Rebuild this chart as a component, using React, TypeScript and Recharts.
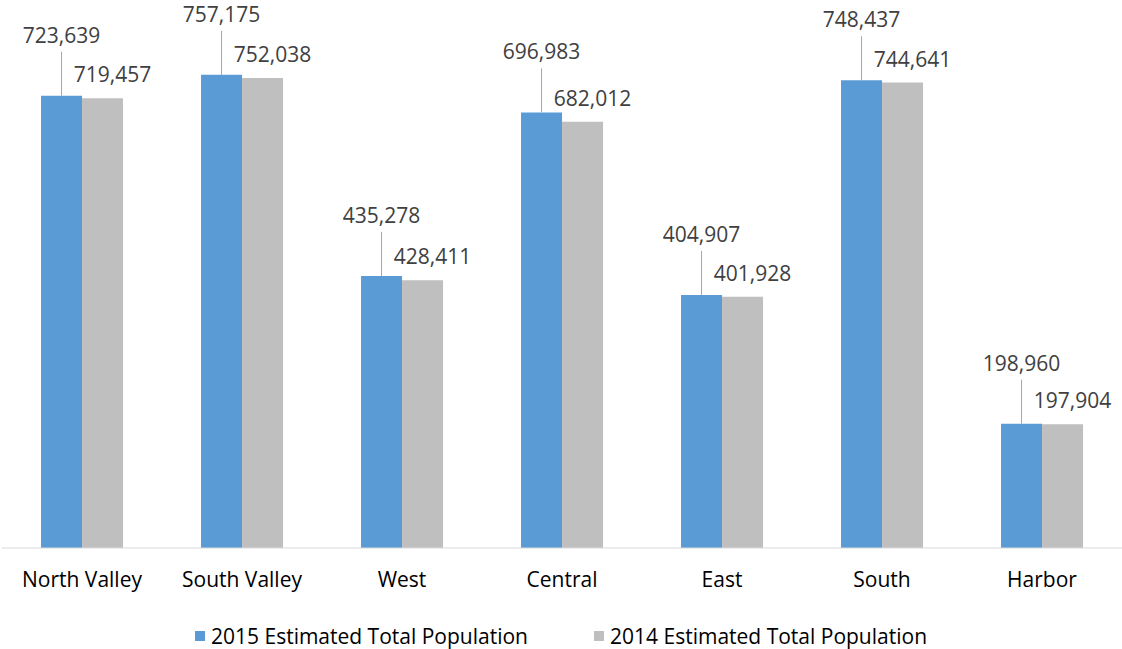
import { BarChart, Bar, XAxis, YAxis, Legend } from "recharts"

const regions = ["North Valley", "South Valley", "West", "Central", "East", "South", "Harbor"]
const pop2015 = [723639, 757175, 435278, 696983, 404907, 748437, 198960]
const pop2014 = [719457, 752038, 428411, 682012, 401928, 744641, 197904]

const BLUE = "#5B9BD5"
const GRAY = "#BFBFBF"
const FONT = "'Open Sans', sans-serif"

const data = regions.map((name, i) => ({
  name,
  y2015: pop2015[i],
  y2014: pop2014[i],
}))

const fmt = (v: number) => v.toLocaleString("en-US")

// 2015 labels sit up high with a leader line down to the bar
function CalloutLabel({ x, y, width, value }: any) {
  const cx = x + width / 2
  return (
    <g>
      <line x1={cx} y1={y - 44} x2={cx} y2={y} stroke="#A6A6A6" strokeWidth={1} />
      <text x={cx} y={y - 53} textAnchor="middle" fontSize={21} fill="#404040" fontFamily={FONT}>
        {fmt(value)}
      </text>
    </g>
  )
}

function PlainLabel({ x, y, width, value }: any) {
  return (
    <text x={x + width / 2 + 10} y={y - 16} textAnchor="middle" fontSize={21} fill="#404040" fontFamily={FONT}>
      {fmt(value)}
    </text>
  )
}

function LegendBox() {
  const items = [
    { label: "2015 Estimated Total Population", color: BLUE },
    { label: "2014 Estimated Total Population", color: GRAY },
  ]
  return (
    <div style={{ display: "flex", justifyContent: "center", gap: 66, fontFamily: FONT, fontSize: 21, color: "#000" }}>
      {items.map((it) => (
        <div key={it.label} style={{ display: "flex", alignItems: "center" }}>
          <span style={{ width: 10, height: 10, background: it.color, marginRight: 6, display: "inline-block" }} />
          <span>{it.label}</span>
        </div>
      ))}
    </div>
  )
}

export default function App() {
  return (
    <div style={{ position: "absolute", left: 0, top: 0, background: "#fff" }}>
      <BarChart
        width={1122}
        height={649}
        data={data}
        margin={{ top: 48, right: 0, left: 2, bottom: 71 }}
        barCategoryGap="24.4%"
        barGap={0}
      >
        <XAxis
          dataKey="name"
          axisLine={{ stroke: "#D9D9D9" }}
          tickLine={false}
          tickSize={6}
          tickMargin={18}
          tick={{ fontSize: 21, fill: "#000", fontFamily: FONT }}
          interval={0}
        />
        <YAxis hide domain={[0, 800000]} />
        <Legend
          verticalAlign="middle"
          align="center"
          layout="horizontal"
          content={<LegendBox />}
          wrapperStyle={{ top: 622, left: 0, width: 1122 }}
        />
        <Bar dataKey="y2015" fill={BLUE} isAnimationActive={false} label={<CalloutLabel />} />
        <Bar dataKey="y2014" fill={GRAY} isAnimationActive={false} label={<PlainLabel />} />
      </BarChart>
    </div>
  )
}
